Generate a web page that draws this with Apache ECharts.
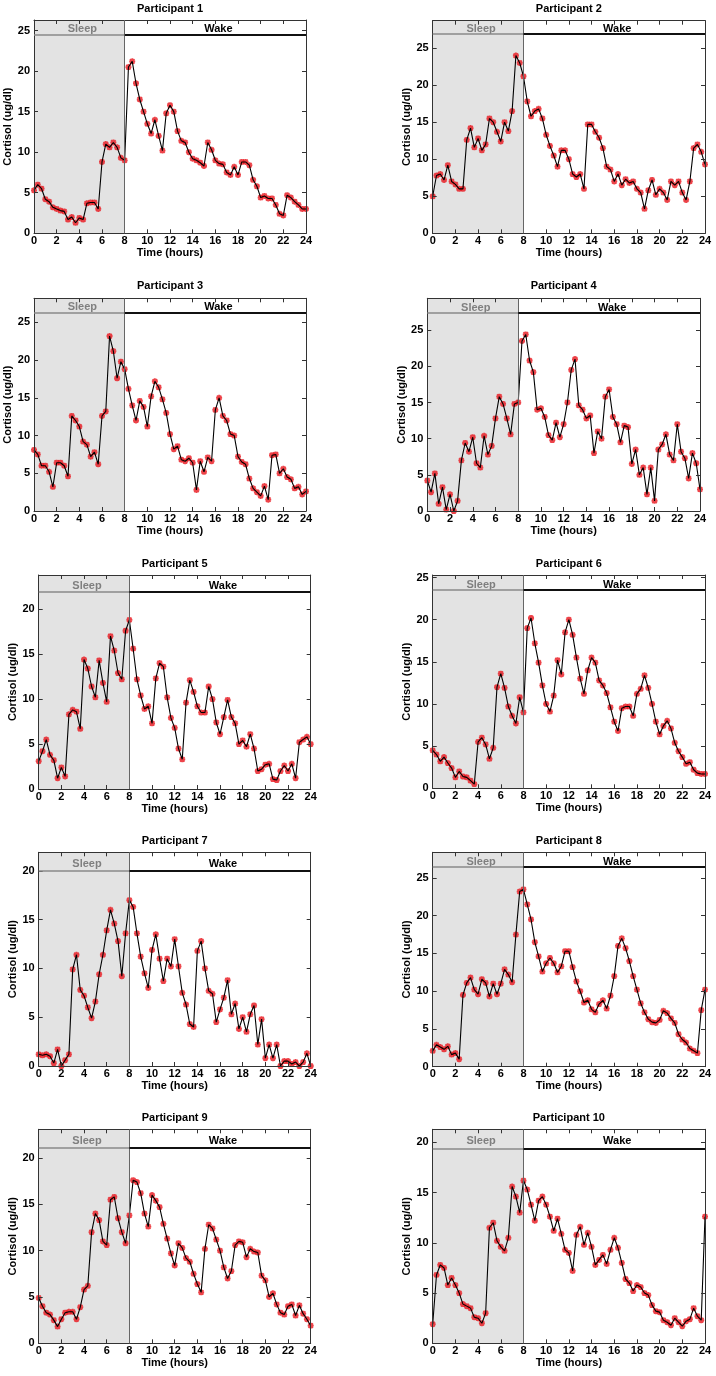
<!DOCTYPE html>
<html><head><meta charset="utf-8">
<script src="https://cdn.jsdelivr.net/npm/echarts@6/dist/echarts.min.js"></script>
<style>html,body{margin:0;padding:0;background:#fff}#c{width:716px;height:1376px}</style>
</head><body><div id="c"></div>
<script>
// sampling grid: one reading every 20 minutes, 0..24 h
const TIME_H = Array.from({length: 73}, (_, i) => i / 3);
const TITLES = ['Participant 1','Participant 2','Participant 3','Participant 4','Participant 5',
                'Participant 6','Participant 7','Participant 8','Participant 9','Participant 10'];
const BAND_LABELS = ['Sleep', 'Wake'];
const SLEEP_END = 8;
const X_LABEL = 'Time (hours)';
const Y_LABEL = 'Cortisol (ug/dl)';

const P1 = [5.3,6.0,5.5, 4.2,3.9,3.2, 3.0,2.8,2.7, 1.7,2.0,1.3, 1.9,1.7,3.7, 3.8,3.8,3.0,
  8.8,11.0,10.6, 11.2,10.6,9.3, 9.0,20.5,21.2, 18.5,16.5,15.0, 13.5,12.3,14.0, 12.0,10.2,14.8,
  15.8,15.0,12.6, 11.4,11.2,10.0, 9.2,9.0,8.7, 8.3,11.2,10.3, 9.0,8.6,8.5, 7.5,7.2,8.2,
  7.2,8.8,8.8, 8.4,6.6,5.8, 4.4,4.6,4.3, 4.3,3.5,2.4, 2.2,4.7,4.4, 3.9,3.5,3.0, 3.0];
const P2 = [5.0,7.8,8.0, 7.2,9.2,7.0, 6.6,6.0,6.0, 12.6,14.2,11.6, 12.8,11.2,12.0, 15.5,15.0,13.7,
  12.4,15.0,13.8, 16.5,24.0,23.0, 21.2,17.8,15.8, 16.5,16.8,15.5, 13.3,11.8,10.5, 9.0,11.2,11.2,
  10.0,8.0,7.6, 8.0,6.0,14.7, 14.7,13.7,12.9, 11.5,9.0,8.6, 7.0,8.0,6.5, 7.3,6.8,7.0,
  6.0,5.5,3.3, 5.8,7.2,5.2, 6.0,5.5,4.5, 7.0,6.5,7.0, 5.5,4.5,7.0, 11.5,12.0,11.0, 9.3];
const P3 = [8.1,7.5,6.0, 6.0,5.2,3.2, 6.4,6.4,6.0, 4.6,12.6,12.0, 11.2,9.2,8.8, 7.2,7.8,6.2,
  12.6,13.2,23.2, 21.2,17.6,19.8, 18.8,16.2,14.0, 12.0,14.6,13.8, 11.2,15.2,17.2, 16.4,14.8,13.0,
  10.2,8.2,8.6, 6.8,6.6,7.0, 6.4,2.8,6.6, 5.2,7.1,6.6, 13.4,15.0,12.6, 12.0,10.2,10.0,
  7.2,6.5,6.2, 4.3,3.0,2.5, 2.0,3.3,1.5, 7.4,7.5,5.0, 5.6,4.5,4.2, 3.0,3.2,2.2, 2.6];
const P4 = [4.2,2.6,5.2, 1.0,3.3,0.2, 2.3,0.0,1.4, 7.0,9.4,8.2, 10.2,6.6,6.0, 10.4,7.8,9.0,
  12.8,15.8,14.8, 12.8,10.6,14.8, 15.0,23.5,24.4, 20.8,19.2,14.0, 14.2,13.0,10.5, 9.8,12.2,10.2,
  12.0,15.0,19.5, 21.0,14.6,14.0, 12.8,13.2,8.0, 11.0,10.0,15.8, 16.8,13.0,12.0, 9.5,11.8,11.6,
  6.5,8.5,5.0, 6.0,2.3,6.0, 1.4,8.5,9.2, 10.6,7.8,7.0, 12.0,8.2,7.3, 4.5,8.0,6.6, 3.0];
const P5 = [3.1,4.2,5.5, 3.8,3.2,1.2, 2.4,1.4,8.3, 8.8,8.6,6.7, 14.4,13.4,11.4, 10.2,14.3,11.8,
  9.7,17.0,15.4, 12.9,12.2,17.6, 18.8,15.6,12.2, 10.4,8.9,9.2, 7.3,12.3,14.0, 13.6,10.2,7.9,
  6.8,4.5,3.3, 9.6,12.1,10.8, 9.2,8.5,8.5, 11.4,10.0,7.4, 6.1,8.0,9.9, 8.0,7.3,5.0,
  5.4,4.7,6.1, 4.5,2.0,2.2, 2.7,2.8,1.1, 1.0,2.0,2.6, 2.0,2.8,1.2, 5.2,5.5,5.8, 5.0];
const P6 = [4.5,4.0,3.2, 3.7,3.0,2.4, 1.3,2.0,1.4, 1.3,0.9,0.5, 5.5,6.0,5.2, 3.5,4.8,12.0,
  13.6,11.9,9.7, 8.6,7.7,10.8, 9.0,19.0,20.2, 17.2,14.9,12.2, 10.0,9.1,11.0, 15.2,13.5,18.5,
  20.0,18.2,15.5, 13.0,11.2,14.0, 15.5,14.9,12.8, 12.2,11.3,9.6, 7.9,6.8,9.5, 9.7,9.7,8.6,
  11.2,11.8,13.4, 11.9,10.0,7.9, 6.4,7.4,8.0, 7.1,5.4,4.4, 3.7,2.9,3.1, 2.2,1.8,1.7, 1.7];
const P7 = [1.2,1.1,1.2, 1.0,0.3,1.7, 0.0,0.6,1.2, 9.9,11.4,7.8, 7.2,6.0,4.9, 6.6,9.4,11.4,
  13.9,16.0,14.6, 12.8,9.2,13.6, 17.0,16.3,13.6, 11.2,9.5,8.0, 11.9,13.5,11.0, 8.7,11.0,10.2,
  13.0,10.2,7.5, 6.3,4.3,4.0, 11.8,12.8,10.0, 7.7,7.4,4.5, 5.8,7.0,8.8, 5.3,6.4,3.8,
  5.0,3.5,5.3, 6.2,2.2,4.8, 0.8,2.2,0.8, 2.2,0.0,0.5, 0.5,0.2,0.4, 0.0,0.4,1.3, 0.0];
const P8 = [2.1,2.9,2.6, 2.3,2.7,1.6, 1.8,1.0,9.5, 11.1,11.8,10.2, 9.6,11.6,11.1, 9.3,11.0,9.6,
  11.0,12.9,12.2, 11.2,17.5,23.2, 23.5,21.5,19.5, 16.5,14.6,12.6, 13.7,14.4,13.7, 12.5,13.3,15.3,
  15.3,13.2,11.3, 10.0,8.5,8.8, 7.6,7.2,8.3, 8.8,7.7,9.4, 12.0,16.0,17.0, 15.7,14.0,12.0,
  10.2,8.4,7.2, 6.3,5.9,5.8, 6.2,7.4,7.1, 6.4,5.8,4.3, 3.6,3.2,2.4, 2.1,1.8,7.5, 10.2];
const P9 = [4.9,4.0,3.3, 3.1,2.5,1.8, 2.6,3.3,3.4, 3.4,2.6,3.9, 5.8,6.2,12.0, 14.0,13.3,11.0,
  10.6,15.5,15.8, 13.5,12.0,10.8, 13.8,17.6,17.4, 16.2,14.0,12.6, 16.0,15.4,14.7, 12.9,11.3,9.7,
  8.4,10.8,10.3, 9.2,8.8,7.5, 6.4,5.5,10.2, 12.8,12.4,11.2, 10.0,8.2,7.0, 7.8,10.6,11.0,
  10.9,9.3,10.2, 9.9,9.8,7.3, 6.8,5.0,5.4, 4.2,3.3,3.1, 4.0,4.2,3.0, 4.1,3.2,2.6, 1.9];
const P10 = [1.9,6.8,7.8, 7.5,5.8,6.5, 5.8,5.0,3.9, 3.7,3.5,2.6, 2.5,2.0,3.0, 11.5,12.0,10.2,
  9.6,9.2,10.5, 15.6,14.6,13.0, 16.2,15.3,13.8, 12.2,14.2,14.6, 13.8,12.6,11.2, 12.4,10.9,9.3,
  9.0,7.2,10.8, 11.6,9.8,11.0, 9.6,7.8,8.3, 8.8,7.9,9.3, 10.5,9.5,8.0, 6.4,6.0,5.2,
  5.8,5.6,5.0, 4.8,3.8,3.2, 3.1,2.3,2.1, 1.8,2.5,2.1, 1.7,2.2,2.4, 3.5,2.7,2.3, 12.6];
const SERIES = [P1, P2, P3, P4, P5, P6, P7, P8, P9, P10];
const Y_MAX  = [26.3, 28.7, 28.2, 29.4, 23.8, 25.3, 21.9, 28.4, 23.1, 21.3];
const BAND_Y = [24.5, 26.9, 26.3, 27.4, 21.9, 23.5, 20.0, 26.5, 21.1, 19.4];

// layout (pixels)
const LAYOUT = [
  {l:34,    t:20,     w:272,   h:213.3},
  {l:432.7, t:20.7,   w:272.3, h:212.6},
  {l:34,    t:298.3,  w:272,   h:212.7},
  {l:427.3, t:298.3,  w:272.7, h:212.7},
  {l:38.7,  t:575,    w:272,   h:214},
  {l:432.7, t:575,    w:272.3, h:213.3},
  {l:38.7,  t:852.3,  w:272,   h:213.7},
  {l:432.7, t:852.3,  w:272.3, h:214.4},
  {l:38.7,  t:1129.3, w:272,   h:214},
  {l:432.7, t:1129.3, w:272.3, h:214}
];
const TITLE_CY = [9.5, 9.5, 287, 287, 564.5, 564.5, 842, 842, 1119, 1119];

const FONT = "'Liberation Sans', Arial, Helvetica, sans-serif";
const TXT = {fontFamily: FONT, fontSize: 11, fontWeight: 'bold', color: '#000'};
const STAR = 'path://M3.5,0L6.5,0L6.5,10L3.5,10Z M0,3.5L10,3.5L10,6.5L0,6.5Z M0.2,2.3L2.3,0.2L9.8,7.7L7.7,9.8Z M7.7,0.2L9.8,2.3L2.3,9.8L0.2,7.7Z';

const grid = [], xAxis = [], yAxis = [], series = [], title = [];
const axLine = {show: true, onZero: false, lineStyle: {color: '#333', width: 1}};
const tick = {show: true, inside: true, length: 4, lineStyle: {color: '#333', width: 1}};

SERIES.forEach((vals, k) => {
  const L = LAYOUT[k];
  grid.push({left: L.l, top: L.t, width: L.w, height: L.h, show: false});
  title.push({text: TITLES[k], left: L.l + L.w / 2, top: TITLE_CY[k] - 6.5, padding: 0,
    textAlign: 'center', textStyle: TXT});
  xAxis.push({type: 'value', gridIndex: k, min: 0, max: 24, interval: 2, position: 'bottom', z: 4,
    axisLine: axLine, axisTick: tick, splitLine: {show: false},
    axisLabel: Object.assign({margin: 2}, TXT),
    name: X_LABEL, nameLocation: 'middle', nameGap: 14, nameTextStyle: TXT});
  xAxis.push({type: 'value', gridIndex: k, min: 0, max: 24, interval: 2, position: 'top', z: 4,
    axisLine: axLine, axisTick: tick, splitLine: {show: false}, axisLabel: {show: false}});
  yAxis.push({type: 'value', gridIndex: k, min: 0, max: Y_MAX[k], interval: 5, position: 'left', z: 4,
    axisLine: axLine, axisTick: tick, splitLine: {show: false},
    axisLabel: Object.assign({margin: 4, formatter: v => (Math.abs(v % 5) < 1e-9 ? String(v) : '')}, TXT),
    name: Y_LABEL, nameLocation: 'middle', nameGap: 19, nameTextStyle: TXT});
  yAxis.push({type: 'value', gridIndex: k, min: 0, max: Y_MAX[k], interval: 5, position: 'right', z: 4,
    axisLine: axLine, axisTick: tick, splitLine: {show: false}, axisLabel: {show: false}});

  const pts = TIME_H.map((t, i) => [t, vals[i]]);
  const ymax = Y_MAX[k], band = BAND_Y[k];
  series.push({
    type: 'scatter', xAxisIndex: 2 * k, yAxisIndex: 2 * k, data: pts, silent: true,
    symbol: STAR, symbolSize: 6, itemStyle: {color: '#e8141b'}, z: 2,
    markArea: {silent: true,
      label: Object.assign({show: true, position: 'inside', offset: [3, 2]}, TXT),
      data: [
        [{coord: [0, 0], itemStyle: {color: '#e3e3e3'}, label: {show: false}}, {coord: [SLEEP_END, ymax]}],
        [{coord: [0, band], name: BAND_LABELS[0], itemStyle: {color: 'rgba(0,0,0,0)'},
          label: {show: true, color: '#7f7f7f'}}, {coord: [SLEEP_END, ymax]}],
        [{coord: [SLEEP_END, band], name: BAND_LABELS[1], itemStyle: {color: 'rgba(0,0,0,0)'},
          label: {show: true, color: '#000'}}, {coord: [24, ymax]}]
      ]},
    markLine: {silent: true, symbol: ['none', 'none'], label: {show: false},
      data: [
        [{coord: [SLEEP_END, 0], lineStyle: {color: '#666', width: 1, type: 'solid'}},
         {coord: [SLEEP_END, ymax], lineStyle: {color: '#666', width: 1, type: 'solid'}}],
        [{coord: [0, band], lineStyle: {color: '#8a8a8a', width: 1.5, type: 'solid'}},
         {coord: [SLEEP_END, band], lineStyle: {color: '#8a8a8a', width: 1.5, type: 'solid'}}],
        [{coord: [SLEEP_END, band], lineStyle: {color: '#111', width: 2, type: 'solid'}},
         {coord: [24, band], lineStyle: {color: '#111', width: 2, type: 'solid'}}]
      ]}
  });
  series.push({type: 'line', xAxisIndex: 2 * k, yAxisIndex: 2 * k, data: pts, silent: true,
    showSymbol: false, symbol: 'none', lineStyle: {color: '#000', width: 1.1}, z: 3});
});

const chart = echarts.init(document.getElementById('c'), null, {renderer: 'canvas'});
chart.setOption({animation: false, backgroundColor: '#fff', title, grid, xAxis, yAxis, series});
</script></body></html>
